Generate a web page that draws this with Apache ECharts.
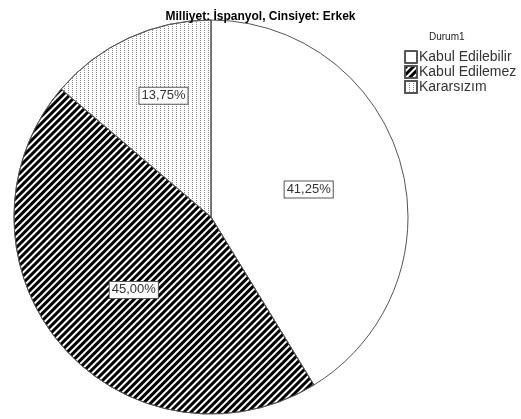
<!DOCTYPE html>
<html><head><meta charset="utf-8">
<script src="https://cdn.jsdelivr.net/npm/echarts@6/dist/echarts.min.js"></script>
<style>html,body{margin:0;padding:0;background:#fff}#c{width:521px;height:419px}</style>
</head><body><div id="c"></div>
<script>
var chartTitle = 'Milliyet: İspanyol, Cinsiyet: Erkek';
var legendTitle = 'Durum1';
var categories = ['Kabul Edilebilir', 'Kabul Edilemez', 'Kararsızım'];
var values = [41.25, 45.00, 13.75];

var decals = [
  null,
  {symbol:'rect', symbolSize:1, color:'#000', dashArrayX:[1,0], dashArrayY:[2.5,1.5], rotation:-Math.PI/4},
  {symbol:'rect', symbolSize:1, color:'#888', dashArrayX:[1,3], dashArrayY:[1,1], rotation:0}
];
var labelShift = [[0,0],[0,7],[-5,-29]];

var chart = echarts.init(document.getElementById('c'), null, {renderer:'canvas'});
chart.setOption({
  animation:false,
  backgroundColor:'#fff',
  title:[
    {text:chartTitle, left:'center', top:6, textStyle:{fontFamily:'Liberation Sans', fontSize:12, fontWeight:'bold', color:'#000'}},
    {text:legendTitle, left:424, top:27, textStyle:{fontFamily:'Liberation Sans', fontSize:10, fontWeight:'normal', color:'#222'}}
  ],
  legend:{
    orient:'vertical', left:404, top:50, padding:0, itemWidth:12, itemHeight:12, itemGap:1, icon:'rect',
    textStyle:{fontFamily:'Liberation Sans', fontSize:14, lineHeight:14, color:'#333', padding:[0,0,0,-3]},
    data:categories
  },
  series:[{
    type:'pie', center:[211,217], radius:197, startAngle:90, clockwise:true,
    label:{position:'inner', formatter:function(p){return p.value.toFixed(2).replace('.',',')+'%';},
      fontFamily:'Liberation Sans', fontSize:13, color:'#333', backgroundColor:'#fff',
      borderColor:'#555', borderWidth:1, padding:[2,2,1,2]},
    labelLine:{show:false},
    emphasis:{disabled:true},
    labelLayout:function(p){var s=labelShift[p.dataIndex];return {dx:s[0], dy:s[1]};},
    data:categories.map(function(n,i){
      var d={name:n, value:values[i], itemStyle:{color:'#fff', borderColor:'#555', borderWidth:1}};
      if(decals[i]) d.itemStyle.decal=decals[i];
      return d;
    })
  }]
});
</script></body></html>
